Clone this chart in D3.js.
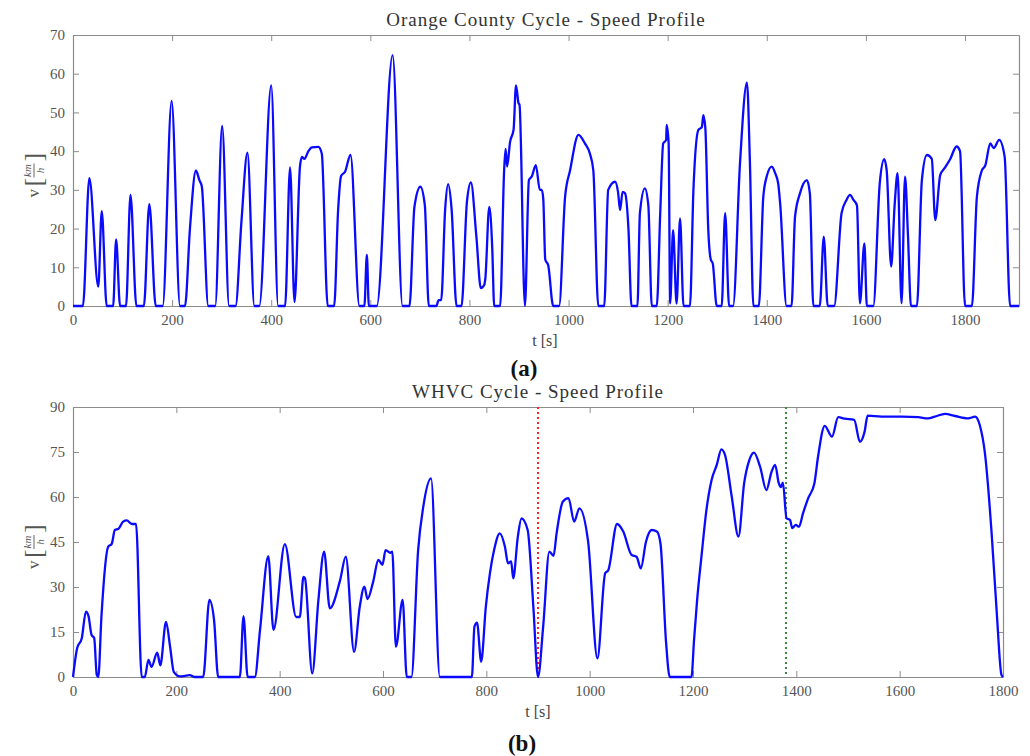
<!DOCTYPE html>
<html>
<head>
<meta charset="utf-8">
<script src="https://cdn.jsdelivr.net/npm/d3@7"></script>
<style>
  html, body { margin: 0; padding: 0; background: #fff; }
  svg { display: block; }
</style>
</head>
<body>
<svg id="chart" width="1030" height="756"></svg>
<script>
// ---------------- DATA ----------------
const ocTime = [0,20,33,51,58,68,81,87,95,107,116,128,143,154,167,181,199,216,226,236,248,255,260,273,287,301,315,328,340,352,366,376,400,414,428,438,447,458,462,467,475,482,495,502,514,527,535,541,549,560,578,588,593,597,613,645,665,679,689,701,710,718,733,738,743,751,757,764,774,784,795,803,814,823,830,832,840,846,850,862,870,873,876,882,889,894,899,901,912,920,926,934,942,946,949,953,959,969,981,993,1003,1020,1033,1043,1050,1060,1072,1080,1094,1100,1104,1109,1114,1121,1127,1139,1144,1154,1161,1168,1178,1185,1191,1197,1198,1202,1205,1211,1218,1225,1232,1245,1252,1262,1269,1272,1276,1282,1287,1291,1299,1309,1316,1324,1332,1346,1360,1366,1373,1384,1393,1400,1410,1417,1423,1427,1440,1450,1457,1467,1481,1487,1494,1507,1515,1523,1536,1551,1561,1568,1575,1582,1588,1597,1602,1615,1628,1637,1642,1651,1658,1664,1672,1679,1685,1691,1703,1713,1723,1733,1740,1750,1760,1770,1783,1790,1800,1814,1824,1834,1841,1851,1858,1869,1880,1891,1909];
const ocSpeed = [0,0,33,5,24.5,0,0,17.2,0,0,28.7,0,0,26.3,0,0,53,0,0,20,35,32.5,30.8,0,0,46.5,0,0,22,39.6,0,0,57,0,0,35.8,1,36,38.5,38,40,41,41.1,39.4,0,0,24.8,33.6,34.7,39,0,0,13.2,0,0,64.8,0,0,25.6,30.8,26,0,0,1.5,1.5,25,31.5,25,0,0,27,31.9,17.9,4.6,5.5,7,25.6,15,0,0,35,40.6,36,42.4,45.5,57,52.4,52,0,32.5,33.5,36.4,30,30,27.6,12,10.5,0,0,28.2,35,44.2,42,39.4,35,0,0,30,32.1,29.3,24.8,29.5,29.1,19.6,0,0,24,30.4,26,0,0,24,42,42.9,46.8,42,0.7,19.6,0.6,22.6,0,0,30,45.5,46.2,49.3,46,19.6,12,11,0,0,24,0,0,36.9,57.7,37,0,0,28.2,33.5,36,34.3,31.7,26.5,0,0,23,29.1,32.5,29,0,0,17.9,0,0,24,27.4,28.7,27.4,26,0.7,16.2,0,0,31.7,37.9,35,10.2,26,34.3,0.7,33.4,18,0,0,32.5,39,38,22.2,33.8,35.8,37.9,41.2,40,0,0,28.2,35,36.3,42,40.8,42.9,38.6,0,0];

const whvcTime = [0,8,17,25,30,36,41,46,49,55,68,75,81,88,97,104,114,122,133,139,146,152,163,169,180,188,195,207,226,235,252,264,273,281,323,330,338,352,362,378,388,410,432,439,446,449,463,475,486,497,517,528,544,555,564,570,581,591,599,605,614,618,625,638,646,655,668,678,693,710,772,777,782,790,799,807,815,826,836,842,848,852,861,868,880,891,900,910,922,930,936,948,959,970,980,997,1015,1030,1036,1053,1065,1081,1091,1099,1109,1120,1130,1137,1148,1155,1197,1202,1208,1217,1226,1236,1246,1255,1262,1275,1288,1299,1309,1318,1330,1342,1352,1359,1366,1370,1374,1381,1388,1392,1399,1405,1413,1423,1435,1442,1455,1469,1481,1494,1512,1523,1532,1538,1565,1604,1636,1655,1668,1688,1707,1733,1746,1755,1765,1778,1788,1797,1800];
const whvcSpeed = [0,9.6,12.9,21.8,20.3,14,13,0.7,0,20,43.4,44.4,49,49.4,51.8,52.2,51,51,0,0,5.7,3.4,8.1,3.9,18.4,10,1.7,0.2,0.6,0,0,25.7,19,0,0,20.3,0,0,15.7,40.3,15.7,44.3,20,20,33.4,32.9,1.2,25.7,41.8,22.9,32.3,40.1,8.4,23.4,30.1,26,31.8,39,37.4,42.3,41.4,41.8,10.1,25.7,0,0,42.3,56.8,66.2,0,0,16.8,18.1,5.1,23.4,34.6,42.3,47.9,43.4,37.9,38.5,32.9,46.8,52.9,49,23.4,0,16.8,41.8,40.4,47.9,58.4,59.6,51.8,56.2,45.1,6.2,34.6,35.6,51,48.5,40.7,40,36.2,45.1,49,48.5,44.6,11.2,0,0,12.3,25.7,41.2,55.7,65.7,70.7,75.9,74,60.1,46.8,64.6,72.3,74.8,70,62.3,68.4,70.7,64.6,63.3,64.8,52.9,52.3,49.6,50.7,50.1,54.6,59.6,64.6,73.4,83.7,80.1,86.6,86.1,85.7,78.4,81.7,87.1,86.8,86.8,86.6,86.2,86.8,87.7,87,86.2,86.8,84,74.6,47.9,21.2,0.7,0];

const ocXTicks = [0,200,400,600,800,1000,1200,1400,1600,1800];
const ocYTicks = [0,10,20,30,40,50,60,70];
const whvcXTicks = [0,200,400,600,800,1000,1200,1400,1600,1800];
const whvcYTicks = [0,15,30,45,60,75,90];
const whvcPhaseBounds = [900, 1380];
const whvcPhaseColors = ["#ff2020", "#3a8a3a"];

const titles = ["Orange County Cycle - Speed Profile", "WHVC Cycle - Speed Profile"];
const panelLabels = ["(a)", "(b)"];

// ---------------- DRAW ----------------
const svg = d3.select("#chart");
const serif = "'Liberation Serif', 'DejaVu Serif', serif";
const frameColor = "#8c8c8c";
const tickTextColor = "#555";
const fmt = d3.format("d");

function panel(opt) {
  const x = d3.scaleLinear().domain(opt.xDomain).range([opt.left, opt.right]);
  const y = d3.scaleLinear().domain(opt.yDomain).range([opt.bottom, opt.top]);
  const g = svg.append("g");

  const axB = g.append("g").attr("transform", `translate(0,${opt.bottom})`)
    .call(d3.axisBottom(x).tickValues(opt.xTicks).tickFormat(fmt).tickSize(-6).tickPadding(8).tickSizeOuter(0));
  const axT = g.append("g").attr("transform", `translate(0,${opt.top})`)
    .call(d3.axisTop(x).tickValues(opt.xTicks).tickSize(-6).tickFormat("").tickSizeOuter(0));
  const axL = g.append("g").attr("transform", `translate(${opt.left},0)`)
    .call(d3.axisLeft(y).tickValues(opt.yTicks).tickFormat(fmt).tickSize(-6).tickPadding(8).tickSizeOuter(0));
  const axR = g.append("g").attr("transform", `translate(${opt.right},0)`)
    .call(d3.axisRight(y).tickValues(opt.yTicks).tickSize(-6).tickFormat("").tickSizeOuter(0));
  [axB, axT, axL, axR].forEach(a => {
    a.select(".domain").attr("stroke", frameColor).attr("stroke-width", 1.2);
    a.selectAll(".tick line").attr("stroke", frameColor).attr("stroke-width", 1);
    a.selectAll(".tick text").attr("fill", tickTextColor).style("font-family", serif).style("font-size", "15px");
  });

  if (opt.vlines) {
    opt.vlines.forEach((v, i) => {
      g.append("line")
        .attr("x1", x(v)).attr("x2", x(v))
        .attr("y1", opt.top).attr("y2", opt.bottom)
        .attr("stroke", opt.vcolors[i]).attr("stroke-width", 2)
        .attr("stroke-dasharray", "2,3");
    });
  }

  const pts = opt.t.map((t, i) => [t, opt.v[i]]);
  g.append("path").datum(pts)
    .attr("fill", "none").attr("stroke", "#0a0aff").attr("stroke-width", 2.3)
    .attr("stroke-linejoin", "round")
    .attr("d", d3.line().x(d => x(d[0])).y(d => y(d[1])).curve(d3.curveMonotoneX));

  g.append("text").attr("x", (opt.left + opt.right) / 2).attr("y", opt.top - 9)
    .attr("text-anchor", "middle").style("font-family", serif).style("font-size", "19px")
    .style("letter-spacing", "1px")
    .attr("fill", "#333").text(opt.title);

  g.append("text").attr("x", opt.xLabelX).attr("y", opt.bottom + 40)
    .attr("text-anchor", "middle").style("font-family", serif).style("font-size", "16px")
    .attr("fill", "#444").text("t [s]");

  const yl = g.append("g")
    .attr("transform", `translate(34,${(opt.top + opt.bottom) / 2}) rotate(-90)`)
    .style("font-family", serif).attr("fill", "#555");
  yl.append("text").attr("x", -27).attr("y", 5).style("font-size", "17px").text("v");
  yl.append("text").attr("x", -16).attr("y", 8).style("font-size", "26px").text("[");
  yl.append("text").attr("x", 0).attr("y", -3).attr("text-anchor", "middle").style("font-size", "11px").style("font-style", "italic").text("km");
  yl.append("line").attr("x1", -7).attr("x2", 7).attr("y1", 0).attr("y2", 0).attr("stroke", "#555").attr("stroke-width", 0.9);
  yl.append("text").attr("x", 0).attr("y", 10).attr("text-anchor", "middle").style("font-size", "11px").style("font-style", "italic").text("h");
  yl.append("text").attr("x", 9).attr("y", 8).style("font-size", "26px").text("]");

  svg.append("text").attr("x", opt.panelX).attr("y", opt.panelY)
    .attr("text-anchor", "middle").style("font-family", serif).style("font-size", "23px")
    .style("font-weight", "bold").attr("fill", "#111").text(opt.panel);
}

panel({
  t: ocTime, v: ocSpeed, xDomain: [0, 1909], yDomain: [0, 70],
  xTicks: ocXTicks, yTicks: ocYTicks,
  left: 73, right: 1019, top: 35, bottom: 306,
  title: titles[0], xLabelX: 545, panel: panelLabels[0], panelX: 524, panelY: 376
});

panel({
  t: whvcTime, v: whvcSpeed, xDomain: [0, 1800], yDomain: [0, 90],
  xTicks: whvcXTicks, yTicks: whvcYTicks,
  vlines: whvcPhaseBounds, vcolors: whvcPhaseColors,
  left: 73, right: 1003, top: 407, bottom: 677,
  title: titles[1], xLabelX: 538, panel: panelLabels[1], panelX: 522, panelY: 751
});
</script>
</body>
</html>
